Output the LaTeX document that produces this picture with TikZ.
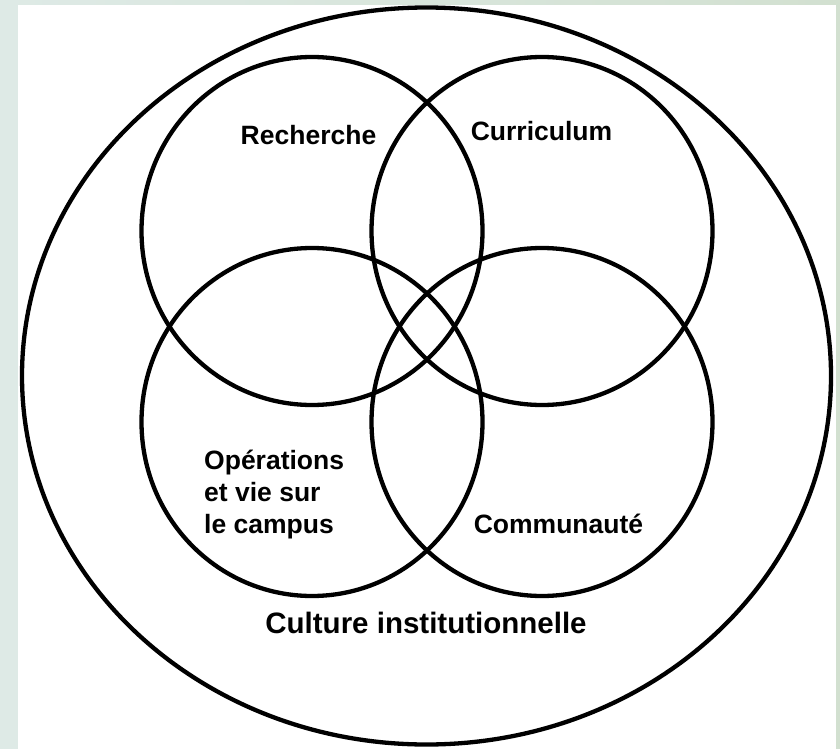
\documentclass[tikz,border=0pt]{standalone}
\usepackage{fontspec}
\setmainfont{Liberation Sans}
\usetikzlibrary{shapes.geometric}
\definecolor{bgleft}{RGB}{222,234,230}
\definecolor{bgright}{RGB}{210,224,208}
\begin{document}
\begin{tikzpicture}[x=1pt,y=-1pt,
  ring/.style={ellipse, draw=black, line width=4.3pt, inner sep=0pt},
  lbl/.style={font=\fontsize{26.5}{32}\selectfont\bfseries, inner sep=0pt, anchor=base},
  biglbl/.style={font=\fontsize{29.5}{34}\selectfont\bfseries, inner sep=0pt, anchor=base}]
\useasboundingbox (0,0) rectangle (840,749);
\shade[left color=bgleft, right color=bgright] (0,0) rectangle (840,749);
\fill[white] (18,5) rectangle (836,749);
% outer ellipse
\node[ring, minimum width=809pt, minimum height=737pt] (outer) at (426.5,376) {};
% four rings
\node[ring, minimum width=341pt, minimum height=348pt] (rech) at (312,231) {};
\node[ring, minimum width=341pt, minimum height=348pt] (curr) at (542,231) {};
\node[ring, minimum width=341pt, minimum height=348pt] (oper) at (312,422) {};
\node[ring, minimum width=341pt, minimum height=348pt] (comm) at (542,422) {};
% labels
\node[lbl] (trech) at (308.5,144) {Recherche};
\node[lbl] (tcurr) at (541.5,140) {Curriculum};
\node[lbl, anchor=base west] (toper) at (204,469) {\begin{tabular}[t]{@{}l@{}}Opérations\\et vie sur\\le campus\end{tabular}};
\node[lbl] (tcomm) at (558.5,533) {Communauté};
\node[biglbl] (tcult) at (426,633) {Culture institutionnelle};
\end{tikzpicture}
\end{document}
